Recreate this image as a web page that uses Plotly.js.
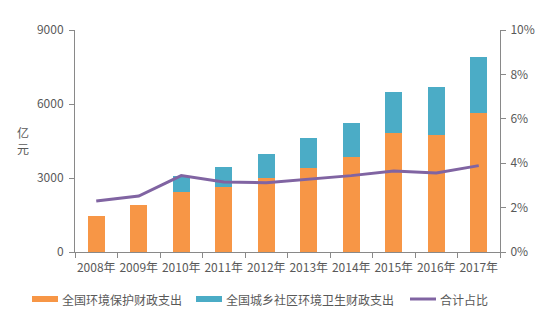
<!DOCTYPE html>
<html><head><meta charset="utf-8">
<script src="https://cdn.plot.ly/plotly-3.0.1.min.js"></script>
<style>html,body{margin:0;padding:0;background:#fff}#chart{width:547px;height:324px}</style>
</head><body><div id="chart"></div>
<script>
var years = ["2008年","2009年","2010年","2011年","2012年","2013年","2014年","2015年","2016年","2017年"];
var envProtection = [1440, 1910, 2440, 2650, 3010, 3420, 3840, 4810, 4730, 5620];
var urbanRuralSanitation = [0, 0, 650, 810, 950, 1190, 1380, 1660, 1950, 2270];
var totalShare = [0.0230, 0.0252, 0.0344, 0.0315, 0.0312, 0.0329, 0.0344, 0.0365, 0.0356, 0.0389];
var seriesNames = ["全国环境保护财政支出", "全国城乡社区环境卫生财政支出", "合计占比"];
var yTitle = "亿<br>元";

var W = 547, H = 324, L = 75, R = 47, T = 30, B = 72;
var pw = W - L - R, ph = H - T - B;
function px(x){ return (x - L) / pw; }
function py(y){ return (H - B - y) / ph; }

var orange = "#F79646", blue = "#4BACC6", purple = "#8064A2", gray = "#595959", axisCol = "#898989";
var fontFam = "Noto Sans CJK SC, Noto Sans, sans-serif";

var data = [
  {type:"bar", x:years, y:envProtection, name:seriesNames[0], marker:{color:orange, line:{width:0}}, hoverinfo:"none"},
  {type:"bar", x:years, y:urbanRuralSanitation, name:seriesNames[1], marker:{color:blue, line:{width:0}}, hoverinfo:"none"},
  {type:"scatter", mode:"lines", x:years, y:totalShare, yaxis:"y2", name:seriesNames[2], line:{color:purple, width:3}, hoverinfo:"none"}
];

var layout = {
  width: W, height: H,
  margin: {l:L, r:R, t:T, b:B, pad:0},
  paper_bgcolor:"#fff", plot_bgcolor:"#fff",
  barmode:"stack", bargap:0.6,
  showlegend:false,
  font:{family:fontFam, size:12, color:gray},
  xaxis:{type:"category", tickson:"boundaries", ticks:"outside", ticklen:5, tickcolor:axisCol,
         showline:true, linecolor:axisCol, linewidth:1, showgrid:false, zeroline:false,
         tickfont:{size:12, color:gray}, tickangle:0, ticklabelstandoff:5},
  yaxis:{range:[0,9000], dtick:3000, tick0:0, ticks:"outside", ticklen:5, tickcolor:axisCol,
         showline:true, linecolor:axisCol, linewidth:1, showgrid:false, zeroline:false,
         tickfont:{size:12, color:gray}, ticklabelstandoff:3},
  yaxis2:{overlaying:"y", side:"right", range:[0,0.1], dtick:0.02, tick0:0, tickformat:".0%",
          ticks:"outside", ticklen:5, tickcolor:axisCol, showline:true, linecolor:axisCol, linewidth:1,
          showgrid:false, zeroline:false, tickfont:{size:12, color:gray}, ticklabelstandoff:2},
  shapes:[
    {type:"rect", xref:"paper", yref:"paper", x0:px(32), x1:px(58), y0:py(302), y1:py(296), fillcolor:orange, line:{width:0}},
    {type:"rect", xref:"paper", yref:"paper", x0:px(196), x1:px(222), y0:py(302), y1:py(296), fillcolor:blue, line:{width:0}},
    {type:"line", xref:"paper", yref:"paper", x0:px(410), x1:px(436), y0:py(299), y1:py(299), line:{color:purple, width:3}}
  ],
  annotations:[
    {text:yTitle, xref:"paper", yref:"paper", x:px(23), y:py(140), showarrow:false, xanchor:"center", yanchor:"middle", font:{size:12, color:gray}},
    {text:seriesNames[0], xref:"paper", yref:"paper", x:px(60), y:py(299), showarrow:false, xanchor:"left", yanchor:"middle", font:{size:12, color:gray}},
    {text:seriesNames[1], xref:"paper", yref:"paper", x:px(224), y:py(299), showarrow:false, xanchor:"left", yanchor:"middle", font:{size:12, color:gray}},
    {text:seriesNames[2], xref:"paper", yref:"paper", x:px(438), y:py(299), showarrow:false, xanchor:"left", yanchor:"middle", font:{size:12, color:gray}}
  ]
};

Plotly.newPlot("chart", data, layout, {displayModeBar:false, staticPlot:true});
</script>
</body></html>
